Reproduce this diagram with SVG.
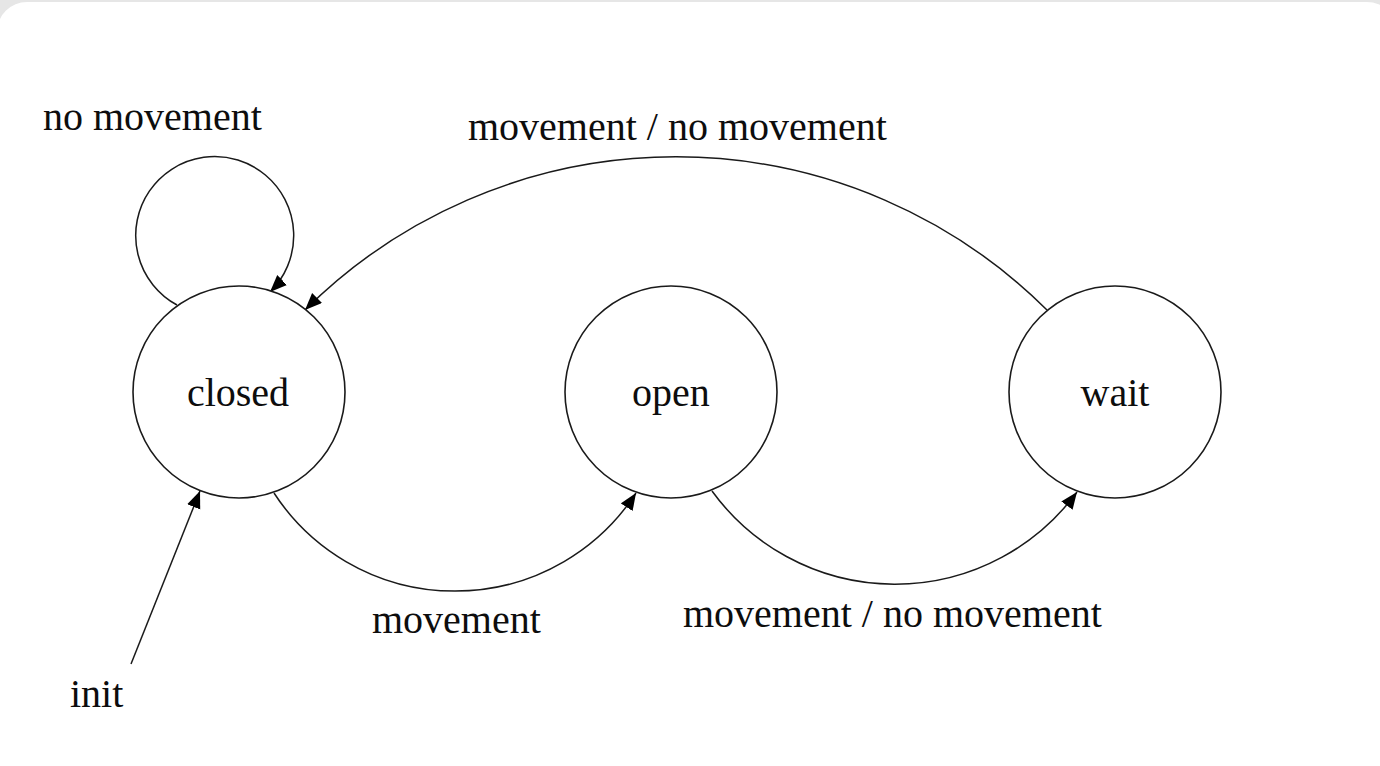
<svg xmlns="http://www.w3.org/2000/svg" width="1380" height="766" viewBox="0 0 1380 766">
  <style>
    .node circle { fill: #ffffff; stroke: #1a1a1a; stroke-width: 1.6; }
    .lbl { font-family: "Liberation Serif", "Times New Roman", serif; font-size: 40px; fill: #0d0d0d; }
    .mid { text-anchor: middle; }
    .edge { fill: none; stroke: #1a1a1a; stroke-width: 1.5; marker-end: url(#arrow); }
  </style>
  <defs>
    <marker id="arrow" markerUnits="userSpaceOnUse" markerWidth="18" markerHeight="15" refX="17" refY="7" orient="auto">
      <path d="M0,0 L17,7 L0,14 z" fill="#000000"/>
    </marker>
  </defs>
  <rect x="0" y="0" width="1380" height="766" fill="#e6e6e6"/>
  <rect x="-3" y="2" width="1400" height="800" rx="30" ry="30" fill="#ffffff"/>

  <g id="connectors">
    <path id="e-closed-self" class="edge" d="M177,305 A79,79 0 1 1 270,292"/>
    <path id="e-wait-closed" class="edge" d="M1047,310 A526,526 0 0 0 305,310"/>
    <path id="e-closed-open" class="edge" d="M274,493 A216,216 0 0 0 636,493"/>
    <path id="e-open-wait" class="edge" d="M712,491 A226,226 0 0 0 1077,492"/>
    <path id="e-init" class="edge" d="M131,664 L200,491"/>
    <text class="lbl" x="43" y="130">no movement</text>
    <text class="lbl" x="468" y="140">movement / no movement</text>
    <text class="lbl" x="372" y="633">movement</text>
    <text class="lbl" x="683" y="627">movement / no movement</text>
    <text class="lbl" x="70" y="707">init</text>
  </g>

  <g id="node-closed" class="node">
    <circle cx="239" cy="392" r="106"/>
    <text class="lbl mid" x="238" y="406">closed</text>
  </g>
  <g id="node-open" class="node">
    <circle cx="671" cy="392" r="106"/>
    <text class="lbl mid" x="671" y="406">open</text>
  </g>
  <g id="node-wait" class="node">
    <circle cx="1115" cy="392" r="106"/>
    <text class="lbl mid" x="1115" y="406">wait</text>
  </g>
</svg>
